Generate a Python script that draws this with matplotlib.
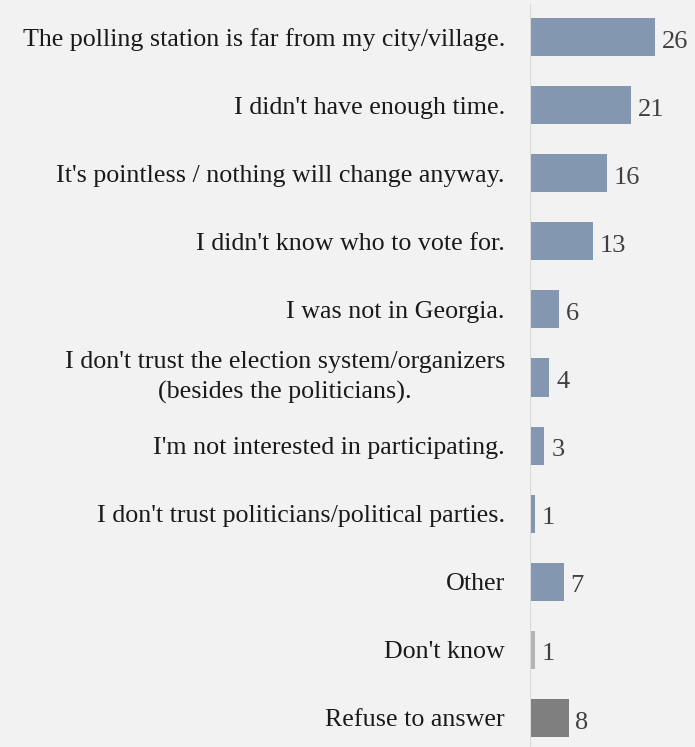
import matplotlib
matplotlib.use("Agg")
import matplotlib.pyplot as plt

categories = [
    "The polling station is far from my city/village.",
    "I didn't have enough time.",
    "It's pointless / nothing will change anyway.",
    "I didn't know who to vote for.",
    "I was not in Georgia.",
    "I don't trust the election system/organizers\n(besides the politicians).",
    "I'm not interested in participating.",
    "I don't trust politicians/political parties.",
    "Other",
    "Don't know",
    "Refuse to answer",
]
values = [26, 21, 16, 13, 6, 4, 3, 1, 7, 1, 8]
colors = ["#8497b0"] * 9 + ["#b4b4b4", "#7f7f7f"]

plt.rcParams["font.family"] = ["Liberation Serif", "DejaVu Serif"]

bg = "#f2f2f2"
fig = plt.figure(figsize=(6.95, 7.47), dpi=100, facecolor=bg)
ax = fig.add_axes([530 / 695, 0, 165 / 695, 1], facecolor=bg)

ypos = list(range(len(categories)))
ax.barh(ypos, values, height=0.56, color=colors, zorder=2)
ax.set_xlim(0, 165 / 4.82)
ax.set_ylim(10 + 29 / 68.1, -37 / 68.1)
ax.axvline(0, ymin=0, ymax=1 - 5 / 747, color="#d9d9d9", lw=1.5, zorder=3)

for y, v in zip(ypos, values):
    ax.text(v + 1.4, y + 0.03, str(v), va="center_baseline", ha="left",
            fontsize=19, color="#404040")

ax.set_yticks(ypos)
ax.set_yticklabels(categories, fontsize=18.7, color="#1a1a1a",
                   multialignment="center", linespacing=1.45)
for lbl in ax.get_yticklabels():
    if "\n" in lbl.get_text():
        lbl.set_verticalalignment("center")
    else:
        lbl.set_verticalalignment("center_baseline")
ax.tick_params(axis="y", length=0, pad=18)
ax.set_xticks([])
for s in ax.spines.values():
    s.set_visible(False)

fig.savefig("out.png", dpi=100, facecolor=bg)
